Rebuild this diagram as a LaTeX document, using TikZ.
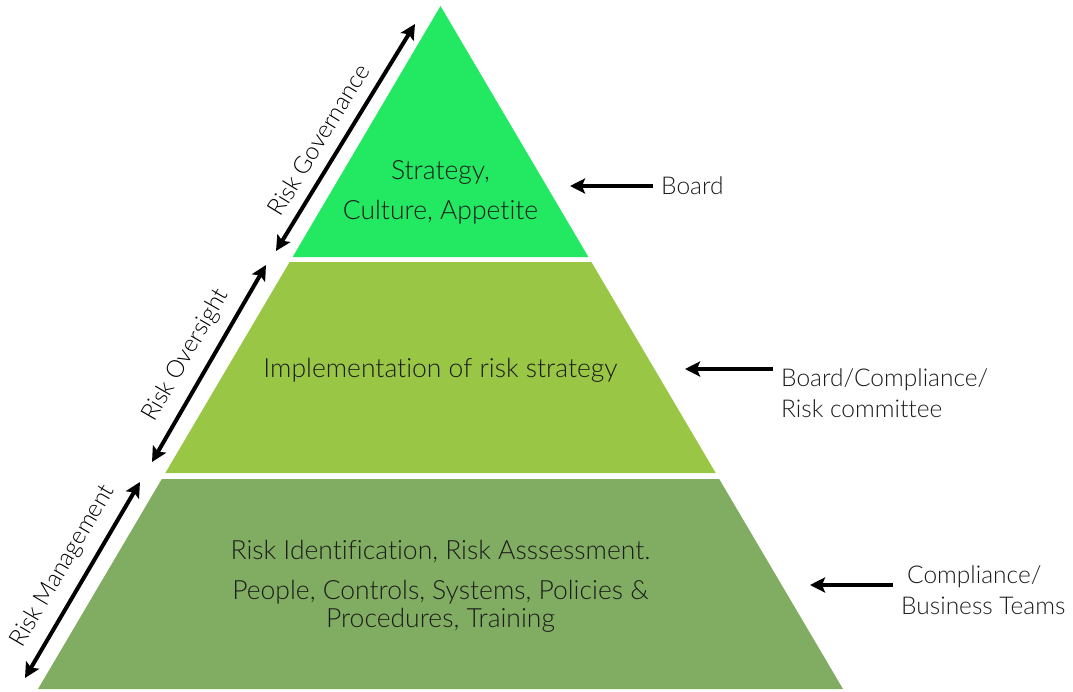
\documentclass[tikz,border=0pt]{standalone}
\usepackage{fontspec}
\setmainfont{Lato}[UprightFont=* Light, Ligatures=NoCommon]
\usetikzlibrary{arrows.meta}

\definecolor{govgreen}{RGB}{34,232,98}
\definecolor{overgreen}{RGB}{154,198,70}
\definecolor{mgmtgreen}{RGB}{129,173,98}
\definecolor{inktext}{RGB}{28,28,28}

\begin{document}
\begin{tikzpicture}[x=1pt,y=-1pt]
%define

\tikzstyle{layer_text} = [text=inktext, align=center, font=\fontsize{26.5}{28.5}\selectfont]
\tikzstyle{side_text} = [text=inktext, align=left, anchor=west, inner xsep=8pt, inner ysep=0pt, font=\fontsize{24.5}{31}\selectfont]
\tikzstyle{level_text} = [text=black, sloped, above=7pt, inner sep=4pt, font=\fontsize{24}{28}\selectfont]
\tikzstyle{arrow} = [-{Stealth[length=15pt,width=15pt,inset=3pt]}, line width=4pt]
\tikzstyle{arrowd} = [{Stealth[length=15pt,width=15pt,inset=3pt]}-{Stealth[length=15pt,width=15pt,inset=3pt]}, line width=4pt]

\useasboundingbox (0,0) rectangle (1073,691);

%block1
\fill[govgreen](440.5,6)--(588.4,257)--(292.6,257)--cycle;
%block2
\fill[overgreen](289.6,262)--(591.4,262)--(715.7,473)--(165.3,473)--cycle;
%block3
\fill[mgmtgreen](161.8,479)--(719.2,479)--(843,689)--(38,689)--cycle;

\node[layer_text](text_Gov) at (440.5,192){Strategy,\\[11.5pt]Culture, Appetite};
\node[layer_text](text_Over) at (440.5,370){Implementation of risk strategy};
\node[layer_text](text_Mgmt) at (440.5,586.5){Risk Identification, Risk Asssessment.\\[11.5pt]People, Controls, Systems, Policies \&\\Procedures, Training};

\node[side_text](side_Board) at (653,186){Board};
\node[side_text](side_Cmte) at (773,393.5){Board/Compliance/\\Risk committee};
\node[side_text](side_Teams) at (893,590.5){\hspace{6pt}Compliance/\\Business Teams};

%line

\coordinate (gov_lo) at (276,251);
\coordinate (gov_hi) at (415,24);
\coordinate (over_lo) at (152,462);
\coordinate (over_hi) at (266,265);
\coordinate (mgmt_lo) at (25,678);
\coordinate (mgmt_hi) at (140,482);

\draw[arrowd](gov_lo)--node[level_text, pos=0.44]{Risk Governance}(gov_hi);
\draw[arrowd](over_lo)--node[level_text, pos=0.48]{Risk Oversight}(over_hi);
\draw[arrowd](mgmt_lo)--node[level_text, pos=0.51]{Risk Management}(mgmt_hi);

\draw[arrow](side_Board.west)--(570,186); %Board->top
\draw[arrow]([yshift=24.5pt]side_Cmte.west)--(685,369); %Committee->middle
\draw[arrow]([yshift=5.5pt]side_Teams.west)--(810,585); %Teams->bottom

\end{tikzpicture}
\end{document}
